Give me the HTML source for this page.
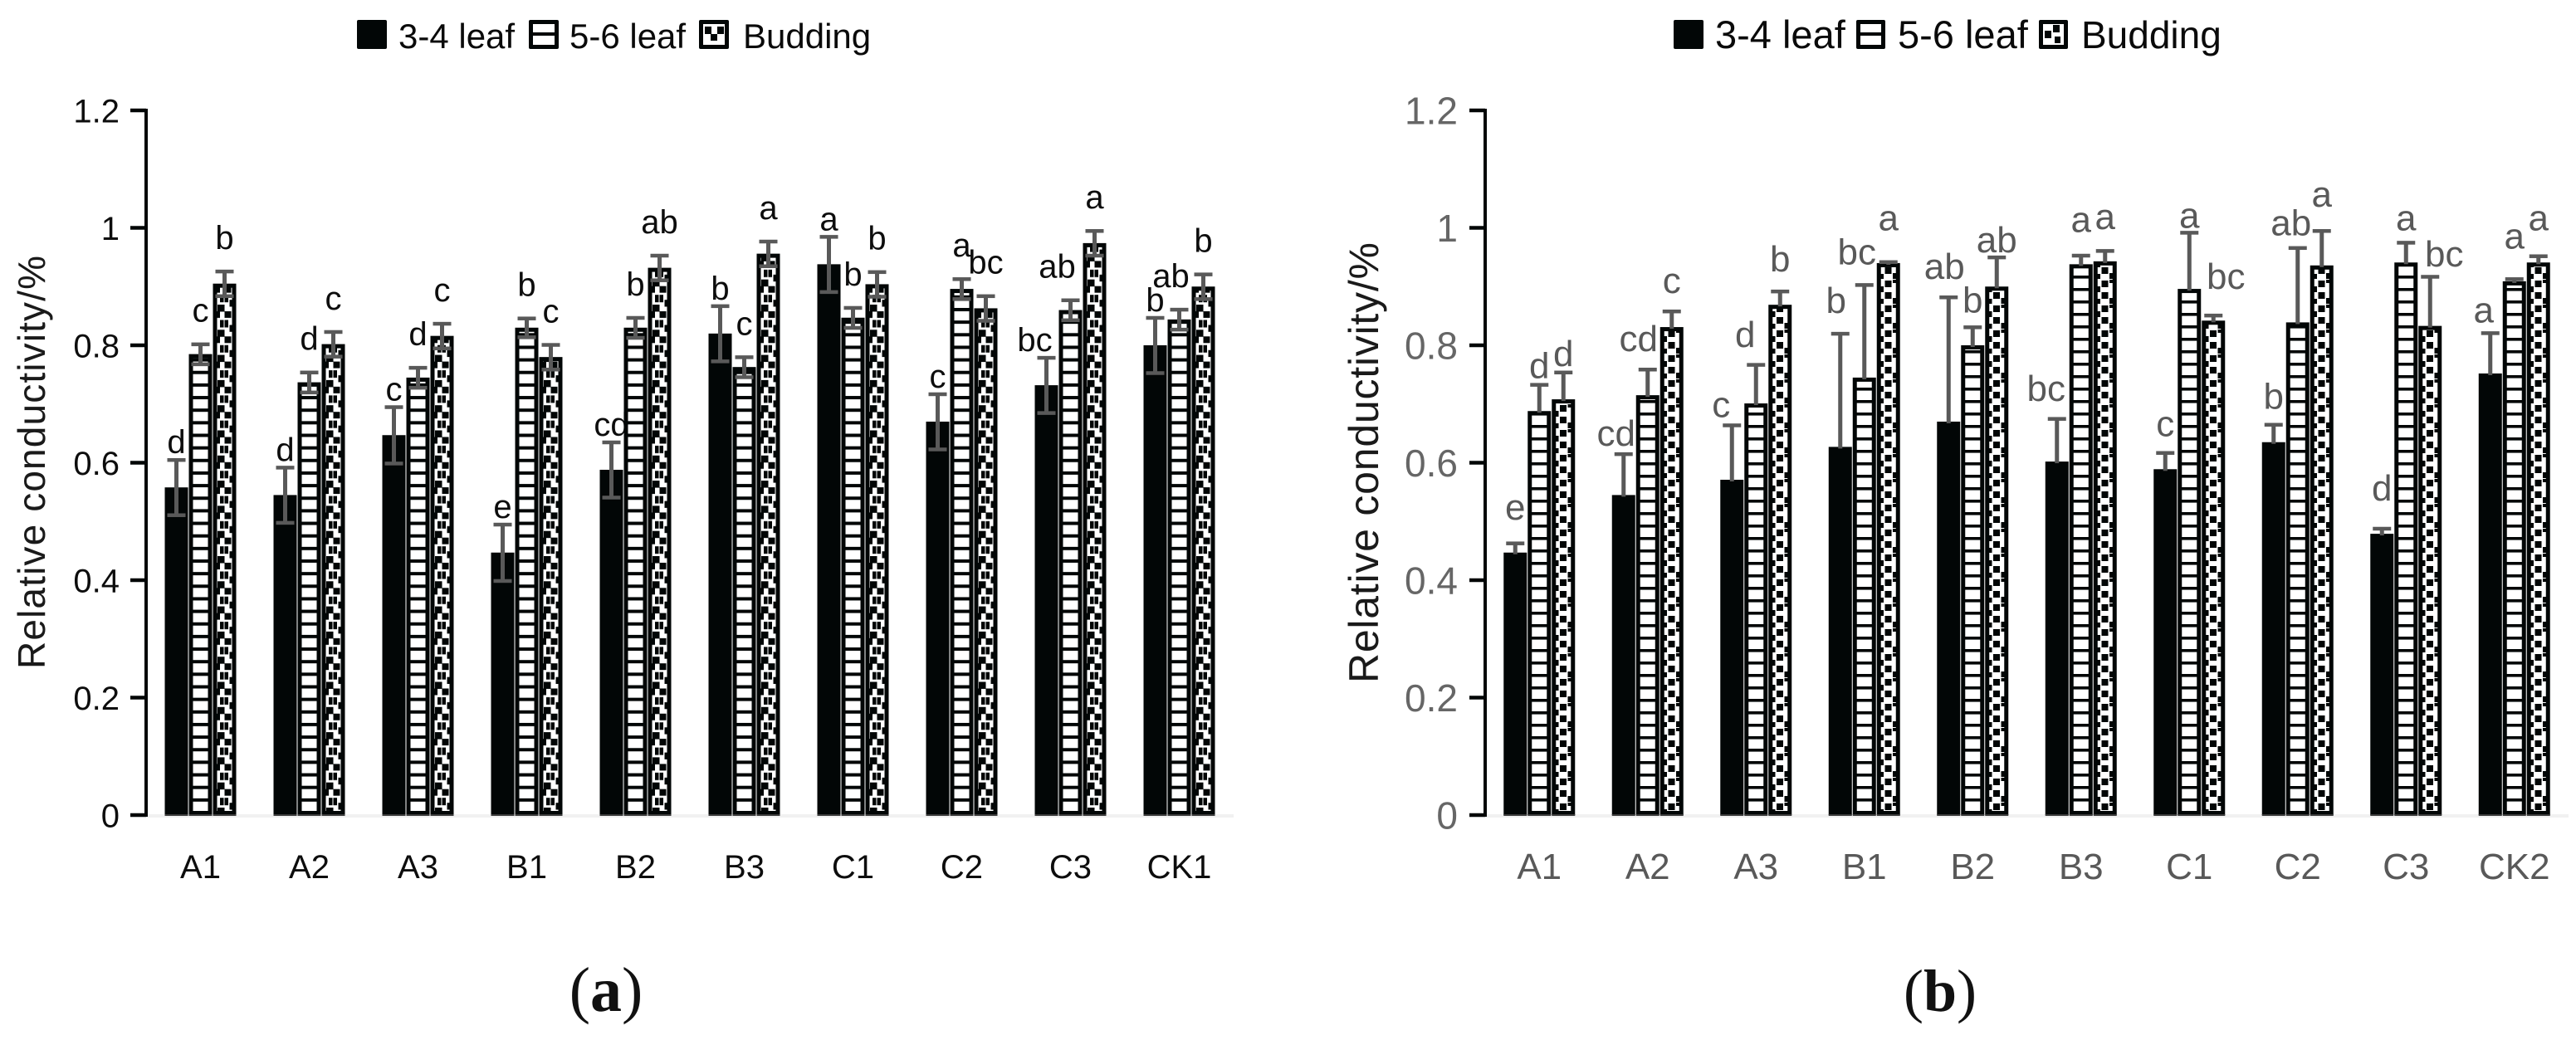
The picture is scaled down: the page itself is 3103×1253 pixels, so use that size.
<!DOCTYPE html>
<html lang="en">
<head>
<meta charset="utf-8">
<title>Relative conductivity charts</title>
<style>
html,body{margin:0;padding:0;background:#fff;}
svg{display:block;}
text{font-family:"Liberation Sans",sans-serif;}
</style>
</head>
<body>
<svg id="figure" xmlns="http://www.w3.org/2000/svg" width="3103" height="1253" viewBox="0 0 3103 1253">
  <defs>
    <pattern id="hatch-a" patternUnits="userSpaceOnUse" x="0" y="977" width="10" height="15.15">
      <rect width="10" height="15.15" fill="#fff"/>
      <rect width="10" height="4" fill="#020606"/>
    </pattern>
    <pattern id="hatch-b" patternUnits="userSpaceOnUse" x="0" y="977" width="10" height="15">
      <rect width="10" height="15" fill="#fff"/>
      <rect width="10" height="3.6" fill="#020606"/>
    </pattern>
    <pattern id="dots-a" patternUnits="userSpaceOnUse" x="256.5" y="367" width="131" height="30.3">
      <rect width="131" height="30.3" fill="#fff"/>
      <g fill="#020606">
        <rect x="5.5" y="0" width="8.5" height="8.5"/>
        <rect x="14" y="8" width="8" height="8"/>
        <rect x="8.5" y="18.5" width="4.5" height="9"/>
        <rect x="14" y="18.5" width="4.5" height="9"/>
        <rect x="4" y="8" width="4.5" height="8"/>
        <rect x="20" y="0" width="4" height="2.5"/>
        <rect x="20" y="24.5" width="4" height="5.8"/>
      </g>
    </pattern>
    <pattern id="dots-b" patternUnits="userSpaceOnUse" x="1869" y="367" width="130.5" height="30">
      <rect width="130.5" height="30" fill="#fff"/>
      <g fill="#020606">
        <rect x="10" y="1" width="8" height="8"/>
        <rect x="10" y="15" width="8" height="8"/>
        <rect x="4" y="8" width="4.5" height="7"/>
        <rect x="4" y="23" width="4.5" height="6"/>
        <rect x="19.5" y="0" width="4.5" height="4"/>
        <rect x="19.5" y="22" width="4.5" height="7"/>
      </g>
    </pattern>
  </defs>

  <g>
    <g>
      <rect x="430" y="24" width="36" height="35" rx="2" fill="#020606"/>
      <text x="480" y="58" font-size="42" fill="#0a0a0a">3-4 leaf</text>
    </g>
    <g>
      <rect x="637" y="24" width="36" height="35" rx="2" fill="#020606"/>
      <rect x="642" y="29" width="26" height="10" fill="#fff"/>
      <rect x="642" y="43" width="26" height="11" fill="#fff"/>
      <text x="686" y="58" font-size="42" fill="#0a0a0a">5-6 leaf</text>
    </g>
    <g>
      <rect x="842" y="24" width="36" height="35" rx="2" fill="#020606"/>
      <rect x="847" y="29" width="26" height="25" fill="#fff"/>
      <rect x="849" y="32" width="8" height="9" fill="#020606"/>
      <rect x="864" y="32" width="8" height="9" fill="#020606"/>
      <rect x="856" y="41" width="8" height="8" fill="#020606"/>
      <text x="895" y="58" font-size="42" fill="#0a0a0a">Budding</text>
    </g>
  </g>

  <g>
    <g>
      <rect x="2016" y="24" width="36" height="35" rx="2" fill="#020606"/>
      <text x="2066" y="58" font-size="47" fill="#0a0a0a">3-4 leaf</text>
    </g>
    <g>
      <rect x="2236" y="24" width="35" height="35" rx="2" fill="#020606"/>
      <rect x="2241" y="29" width="25" height="10" fill="#fff"/>
      <rect x="2241" y="43" width="25" height="11" fill="#fff"/>
      <text x="2286" y="58" font-size="47" fill="#0a0a0a">5-6 leaf</text>
    </g>
    <g>
      <rect x="2456" y="24" width="35" height="35" rx="2" fill="#020606"/>
      <rect x="2461" y="29" width="25" height="25" fill="#fff"/>
      <rect x="2463" y="37" width="8" height="9" fill="#020606"/>
      <rect x="2473" y="30" width="8" height="9" fill="#020606"/>
      <rect x="2475" y="44" width="7" height="8" fill="#020606"/>
      <text x="2507" y="58" font-size="46" fill="#0a0a0a">Budding</text>
    </g>
  </g>

  <text x="54" y="806" transform="rotate(-90 54 806)" font-size="46" fill="#1a1a1a" textLength="498" lengthAdjust="spacing">Relative conductivity/%</text>
  <text x="1660" y="823" transform="rotate(-90 1660 823)" font-size="50" fill="#1a1a1a" textLength="531" lengthAdjust="spacing">Relative conductivity/%</text>

  <text x="730" y="1218" text-anchor="middle" font-size="76" fill="#111" style="font-family:'Liberation Serif',serif">(<tspan font-weight="bold">a</tspan>)</text>
  <text x="2337" y="1218" text-anchor="middle" font-size="72" fill="#111" style="font-family:'Liberation Serif',serif">(<tspan font-weight="bold">b</tspan>)</text>
</svg>

<script>
// Shared axis
const yTicks = [0, 0.2, 0.4, 0.6, 0.8, 1, 1.2];
const seriesNames = ['3-4-leaf', '5-6-leaf', 'budding'];

// Panel (a) data
const categoriesA = ['A1', 'A2', 'A3', 'B1', 'B2', 'B3', 'C1', 'C2', 'C3', 'CK1'];
const leaf34A = [0.558, 0.545, 0.647, 0.447, 0.588, 0.82, 0.938, 0.67, 0.732, 0.80];
const leaf56A = [0.785, 0.737, 0.745, 0.83, 0.83, 0.763, 0.847, 0.896, 0.86, 0.844];
const buddingA = [0.905, 0.802, 0.816, 0.78, 0.932, 0.956, 0.904, 0.863, 0.974, 0.90];
const leaf34ErrA = [0.047, 0.047, 0.048, 0.048, 0.047, 0.047, 0.047, 0.047, 0.047, 0.047];
const leaf56ErrA = [0.017, 0.017, 0.017, 0.016, 0.017, 0.017, 0.017, 0.017, 0.017, 0.017];
const buddingErrA = [0.021, 0.021, 0.021, 0.021, 0.021, 0.021, 0.021, 0.021, 0.021, 0.021];
const leaf34LettersA = ['d', 'd', 'c', 'e', 'cd', 'b', 'a', 'c', 'bc', 'b'];
const leaf56LettersA = ['c', 'd', 'd', 'b', 'b', 'c', 'b', 'a', 'ab', 'ab'];
const buddingLettersA = ['b', 'c', 'c', 'c', 'ab', 'a', 'b', 'bc', 'a', 'b'];

// Panel (b) data
const categoriesB = ['A1', 'A2', 'A3', 'B1', 'B2', 'B3', 'C1', 'C2', 'C3', 'CK2'];
const leaf34B = [0.447, 0.545, 0.571, 0.627, 0.67, 0.602, 0.589, 0.635, 0.479, 0.752];
const leaf56B = [0.688, 0.715, 0.701, 0.745, 0.80, 0.938, 0.896, 0.839, 0.941, 0.909];
const buddingB = [0.708, 0.831, 0.869, 0.94, 0.90, 0.943, 0.842, 0.936, 0.833, 0.941];
const leaf34ErrB = [0.016, 0.07, 0.093, 0.193, 0.212, 0.073, 0.028, 0.03, 0.009, 0.069];
const leaf56ErrB = [0.045, 0.044, 0.066, 0.158, 0.031, 0.015, 0.096, 0.127, 0.034, 0.004];
const buddingErrB = [0.046, 0.027, 0.023, 0.002, 0.05, 0.018, 0.009, 0.059, 0.084, 0.011];
const leaf34LettersB = ['e', 'cd', 'c', 'b', 'ab', 'bc', 'c', 'b', 'd', 'a'];
const leaf56LettersB = ['d', 'cd', 'd', 'bc', 'b', 'a', 'a', 'ab', 'a', 'a'];
const buddingLettersB = ['d', 'c', 'b', 'a', 'ab', 'a', 'bc', 'a', 'bc', 'a'];
// Height of each significance letter above its error-bar cap, in axis units
const leaf34LiftB = [0.04, 0.014, 0.014, 0.035, 0.031, 0.03, 0.028, 0.027, 0.048, 0.018];
const leaf56LiftB = [0.011, 0.031, 0.03, 0.035, 0.025, 0.04, 0.008, 0.021, 0.021, 0.052];
const buddingLiftB = [0.011, 0.031, 0.034, 0.054, 0.008, 0.037, 0.045, 0.041, 0.017, 0.044];
const liftA = [0.011, 0.038, 0.038];

const panels = [
  {
    id: 'a', axisX: 176, pitch: 131, baseY: 982, unit: 707.5, axisW: 4,
    tickFont: 40, tickFill: '#0d0d0d', tickEnd: 144, catFont: 40, catFill: '#0d0d0d', catY: 1058,
    letterFont: 40, letterFill: '#0d0d0d',
    cats: categoriesA,
    values: [leaf34A, leaf56A, buddingA],
    errs: [leaf34ErrA, leaf56ErrA, buddingErrA],
    letters: [leaf34LettersA, leaf56LettersA, buddingLettersA],
    lift: (s, i) => liftA[s],
    nudge: { '0-8': -14, '1-8': -16, '1-9': -10 },
    twoSided: true, hatch: 'url(#hatch-a)', dots: 'url(#dots-a)'
  },
  {
    id: 'b', axisX: 1789, pitch: 130.5, baseY: 982, unit: 707.5, axisW: 4,
    tickFont: 46, tickFill: '#666666', tickEnd: 1756, catFont: 44, catFill: '#595959', catY: 1059,
    letterFont: 44, letterFill: '#595959',
    cats: categoriesB,
    values: [leaf34B, leaf56B, buddingB],
    errs: [leaf34ErrB, leaf56ErrB, buddingErrB],
    letters: [leaf34LettersB, leaf56LettersB, buddingLettersB],
    lift: (s, i) => [leaf34LiftB, leaf56LiftB, buddingLiftB][s][i],
    nudge: { '0-1': -9, '0-2': -13, '0-3': -5, '0-4': -5, '0-5': -13, '0-9': -8, '1-1': -11, '1-2': -13, '1-3': -9, '1-7': -8, '2-6': 15, '2-8': 17 },
    twoSided: false, hatch: 'url(#hatch-b)', dots: 'url(#dots-b)'
  }
];

const NS = 'http://www.w3.org/2000/svg';
const svg = document.getElementById('figure');
const BLACK = '#020606';
const ERR = '#595959';
const BAR_W = 28;
const BAR_STEP = 29;
const BORDER = 5;

function make(parent, tag, attrs, text) {
  const el = document.createElementNS(NS, tag);
  for (const k in attrs) el.setAttribute(k, attrs[k]);
  if (text !== undefined) el.textContent = text;
  parent.appendChild(el);
  return el;
}

panels.forEach(p => {
  const y = v => p.baseY - v * p.unit;
  const groupCenter = i => p.axisX + p.pitch * (i + 0.5);
  const barLeft = (i, s) => groupCenter(i) - 43 + s * BAR_STEP;
  const barCenter = (i, s) => barLeft(i, s) + BAR_W / 2;

  const panel = make(svg, 'g', {});
  
  

  // light x-axis line
  const xAxis = make(panel, 'rect', { x: p.axisX, y: p.baseY - 1, width: p.pitch * p.cats.length, height: 4, fill: '#f1f1f1' });
  
  

  // significance letters sit behind the bars
  p.letters.forEach((arr, s) => {
    arr.forEach((letter, i) => {
      const top = p.values[s][i] + p.errs[s][i];
      const shift = p.nudge[s + '-' + i] || 0;
      const t = make(panel, 'text', {
        x: barCenter(i, s) + shift,
        y: y(top + p.lift(s, i)),
        'text-anchor': 'middle',
        'font-size': p.letterFont,
        fill: p.letterFill
      }, letter);
      
      
    });
  });

  // bars
  p.values.forEach((arr, s) => {
    arr.forEach((v, i) => {
      const x = barLeft(i, s);
      const top = y(v);
      const h = p.baseY - top;
      let bar;
      if (s === 0) {
        bar = make(panel, 'rect', { x: x, y: top, width: BAR_W, height: h, fill: BLACK });
      } else {
        bar = make(panel, 'rect', {
          x: x + BORDER / 2, y: top + BORDER / 2,
          width: BAR_W - BORDER, height: h - BORDER,
          fill: s === 1 ? p.hatch : p.dots,
          stroke: BLACK, 'stroke-width': BORDER
        });
      }
      
      

      const foot = make(panel, 'rect', { x: x, y: p.baseY - 1, width: BAR_W, height: 2, fill: '#3c3c3c' });
      
      
    });
  });

  // error bars
  p.errs.forEach((arr, s) => {
    arr.forEach((e, i) => {
      const cx = barCenter(i, s);
      const v = p.values[s][i];
      const g = make(panel, 'g', {});
      
      
      const hi = y(v + e);
      const lo = p.twoSided ? y(v - e) : y(v) + 2;
      make(g, 'rect', { x: cx - 2.5, y: hi, width: 5, height: lo - hi, fill: ERR });
      make(g, 'rect', { x: cx - 11, y: hi - 2, width: 22, height: 4.5, fill: ERR });
      if (p.twoSided) make(g, 'rect', { x: cx - 11, y: lo - 2, width: 22, height: 4.5, fill: ERR });
    });
  });

  // y axis
  const axis = make(panel, 'rect', {
    x: p.axisX - p.axisW / 2, y: y(1.2) - 2,
    width: p.axisW, height: p.baseY - y(1.2) + 4, fill: BLACK
  });
  
  

  yTicks.forEach(v => {
    const tick = make(panel, 'rect', {
      x: p.axisX - 19, y: y(v) - 2.25, width: 19, height: 4.5, fill: BLACK
    });
    
    

    const label = make(panel, 'text', {
      x: p.tickEnd,
      y: y(v) + p.tickFont * 0.36,
      'text-anchor': 'end',
      'font-size': p.tickFont,
      fill: p.tickFill
    }, String(v));
    
    
  });

  // category labels
  p.cats.forEach((c, i) => {
    const label = make(panel, 'text', {
      x: groupCenter(i),
      y: p.catY,
      'text-anchor': 'middle',
      'font-size': p.catFont,
      fill: p.catFill
    }, c);
    
    
  });
});
</script>
</body>
</html>
